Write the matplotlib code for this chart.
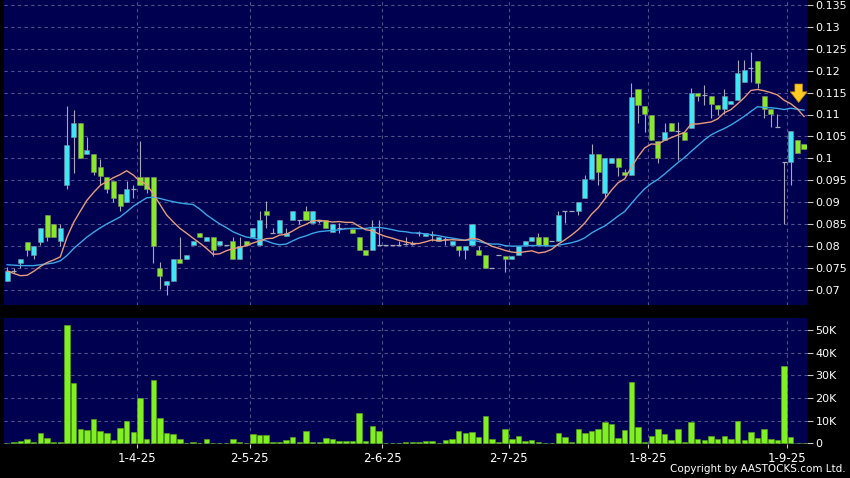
import numpy as np
import pandas as pd
import matplotlib
matplotlib.use("Agg")
import matplotlib.pyplot as plt
from matplotlib.ticker import FixedLocator, FuncFormatter

# daily candles (index 0 = first visible day)
opens = [0.0720, 0.0743, 0.0761, 0.0810, 0.0780, 0.0810, 0.0871, 0.0851, 0.0811, 0.0938,
         0.1049, 0.1080, 0.1010, 0.1009, 0.0979, 0.0958, 0.0949, 0.0919, 0.0900, 0.0930,
         0.0958, 0.0958, 0.0958, 0.0750, 0.0711, 0.0720, 0.0771, 0.0771, 0.0801, 0.0830,
         0.0812, 0.0820, 0.0801, 0.0801, 0.0812, 0.0770, 0.0812, 0.0820, 0.0801, 0.0880,
         0.0830, 0.0830, 0.0822, 0.0860, 0.0860, 0.0879, 0.0852, 0.0856, 0.0860, 0.0831,
         0.0841, 0.0841, 0.0839, 0.0820, 0.0790, 0.0790, 0.0801, 0.0801, 0.0801, 0.0801,
         0.0805, 0.0805, 0.0829, 0.0822, 0.0825, 0.0811, 0.0815, 0.0801, 0.0799, 0.0790,
         0.0801, 0.0790, 0.0780, 0.0750, 0.0780, 0.0778, 0.0770, 0.0780, 0.0801, 0.0811,
         0.0820, 0.0820, 0.0811, 0.0811, 0.0879, 0.0879, 0.0879, 0.0910, 0.0952, 0.1010,
         0.0921, 0.0990, 0.1001, 0.0969, 0.0961, 0.1159, 0.1120, 0.1099, 0.1039, 0.1042,
         0.1081, 0.1062, 0.1060, 0.1070, 0.1150, 0.1144, 0.1142, 0.1121, 0.1113, 0.1123,
         0.1133, 0.1175, 0.1207, 0.1223, 0.1142, 0.1113, 0.1071, 0.0991, 0.0991, 0.1041,
         0.1032]
highs = [0.0752, 0.0750, 0.0770, 0.0810, 0.0800, 0.0841, 0.0871, 0.0851, 0.0851, 0.1120,
         0.1110, 0.1080, 0.1049, 0.1009, 0.0999, 0.0958, 0.0949, 0.0919, 0.0949, 0.0940,
         0.1040, 0.0958, 0.0958, 0.0763, 0.0721, 0.0771, 0.0821, 0.0780, 0.0812, 0.0830,
         0.0820, 0.0820, 0.0812, 0.0801, 0.0820, 0.0820, 0.0812, 0.0841, 0.0879, 0.0902,
         0.0841, 0.0860, 0.0841, 0.0879, 0.0860, 0.0892, 0.0879, 0.0860, 0.0860, 0.0850,
         0.0852, 0.0841, 0.0839, 0.0820, 0.0790, 0.0860, 0.0860, 0.0801, 0.0801, 0.0812,
         0.0820, 0.0812, 0.0834, 0.0829, 0.0834, 0.0820, 0.0820, 0.0812, 0.0799, 0.0799,
         0.0850, 0.0799, 0.0780, 0.0750, 0.0780, 0.0778, 0.0778, 0.0799, 0.0811, 0.0820,
         0.0830, 0.0820, 0.0811, 0.0879, 0.0879, 0.0879, 0.0900, 0.0961, 0.1032, 0.1010,
         0.1001, 0.1001, 0.1001, 0.0975, 0.1171, 0.1159, 0.1120, 0.1099, 0.1039, 0.1081,
         0.1081, 0.1082, 0.1060, 0.1160, 0.1150, 0.1167, 0.1142, 0.1121, 0.1159, 0.1131,
         0.1225, 0.1225, 0.1242, 0.1223, 0.1142, 0.1113, 0.1102, 0.0991, 0.1062, 0.1041,
         0.1032]
lows = [0.0720, 0.0738, 0.0750, 0.0778, 0.0769, 0.0801, 0.0812, 0.0820, 0.0800, 0.0929,
        0.0966, 0.1001, 0.1010, 0.0962, 0.0940, 0.0920, 0.0900, 0.0879, 0.0900, 0.0909,
        0.0939, 0.0920, 0.0760, 0.0701, 0.0689, 0.0720, 0.0762, 0.0771, 0.0801, 0.0820,
        0.0812, 0.0778, 0.0801, 0.0801, 0.0770, 0.0770, 0.0801, 0.0820, 0.0801, 0.0841,
        0.0830, 0.0830, 0.0822, 0.0860, 0.0849, 0.0860, 0.0852, 0.0852, 0.0841, 0.0831,
        0.0830, 0.0841, 0.0830, 0.0790, 0.0780, 0.0790, 0.0801, 0.0801, 0.0801, 0.0801,
        0.0801, 0.0801, 0.0822, 0.0822, 0.0812, 0.0811, 0.0801, 0.0801, 0.0778, 0.0770,
        0.0801, 0.0780, 0.0750, 0.0750, 0.0780, 0.0740, 0.0770, 0.0780, 0.0801, 0.0811,
        0.0801, 0.0800, 0.0811, 0.0811, 0.0852, 0.0879, 0.0870, 0.0910, 0.0952, 0.0940,
        0.0909, 0.0990, 0.0959, 0.0961, 0.0961, 0.1081, 0.1060, 0.1042, 0.0990, 0.1042,
        0.1062, 0.0995, 0.1042, 0.1070, 0.1130, 0.1121, 0.1093, 0.1100, 0.1102, 0.1123,
        0.1133, 0.1175, 0.1175, 0.1160, 0.1093, 0.1071, 0.1071, 0.0851, 0.0940, 0.1012,
        0.1022]
closes = [0.0743, 0.0743, 0.0770, 0.0790, 0.0799, 0.0840, 0.0820, 0.0820, 0.0841, 0.1030,
          0.1080, 0.1001, 0.1018, 0.0969, 0.0960, 0.0930, 0.0909, 0.0890, 0.0929, 0.0930,
          0.0939, 0.0929, 0.0800, 0.0731, 0.0721, 0.0771, 0.0762, 0.0780, 0.0812, 0.0820,
          0.0820, 0.0790, 0.0812, 0.0801, 0.0770, 0.0799, 0.0801, 0.0841, 0.0860, 0.0871,
          0.0830, 0.0860, 0.0830, 0.0879, 0.0860, 0.0860, 0.0879, 0.0856, 0.0841, 0.0850,
          0.0841, 0.0841, 0.0830, 0.0790, 0.0780, 0.0841, 0.0801, 0.0801, 0.0801, 0.0801,
          0.0805, 0.0805, 0.0829, 0.0829, 0.0825, 0.0820, 0.0815, 0.0812, 0.0790, 0.0799,
          0.0850, 0.0780, 0.0750, 0.0750, 0.0780, 0.0770, 0.0778, 0.0799, 0.0811, 0.0820,
          0.0801, 0.0801, 0.0811, 0.0870, 0.0879, 0.0879, 0.0900, 0.0952, 0.1010, 0.0968,
          0.1001, 0.1001, 0.0981, 0.0961, 0.1141, 0.1121, 0.1101, 0.1042, 0.1001, 0.1060,
          0.1062, 0.1062, 0.1042, 0.1150, 0.1143, 0.1144, 0.1123, 0.1113, 0.1142, 0.1131,
          0.1194, 0.1202, 0.1207, 0.1173, 0.1113, 0.1102, 0.1071, 0.0991, 0.1062, 0.1012,
          0.1022]
# volume in thousands of shares
volumes = [0.3, 0.7, 0.9, 1.8, 0.7, 4.4, 2.4, 0.7, 0.6, 52.0,
           26.5, 6.3, 5.9, 10.6, 5.6, 4.6, 1.5, 6.6, 9.9, 4.9,
           20.0, 1.8, 28.0, 11.2, 4.6, 4.3, 1.9, 0.3, 0.4, 0.1,
           1.9, 0.1, 0.3, 0.1, 1.9, 0.6, 0.1, 4.1, 3.8, 3.8,
           0.6, 0.4, 1.5, 2.9, 0.4, 5.3, 0.4, 0.6, 2.5, 1.8,
           1.0, 1.0, 1.2, 13.2, 1.2, 7.6, 5.3, 0.1, 0.1, 0.1,
           0.7, 0.7, 0.4, 1.0, 1.0, 0.3, 1.3, 1.8, 5.6, 4.7,
           4.9, 2.6, 12.2, 1.8, 0.4, 6.2, 1.9, 3.1, 1.0, 1.3,
           0.4, 0.1, 0.1, 4.7, 2.6, 0.4, 6.5, 4.4, 5.6, 6.3,
           9.3, 8.4, 2.5, 5.7, 26.8, 7.1, 0.7, 3.2, 6.3, 4.3,
           1.6, 6.5, 0.4, 9.4, 2.1, 1.5, 3.1, 2.1, 3.2, 1.8,
           9.7, 1.6, 5.0, 2.2, 6.3, 1.8, 1.5, 34.0, 2.9, 0.3,
           0.1]
# moving averages before enough visible days exist
ma10_head = [0.0743, 0.0737, 0.0732, 0.0733, 0.0742, 0.0753, 0.0762, 0.0768, 0.0775]
ma20_head = [0.0757, 0.0756, 0.0755, 0.0755, 0.0755, 0.0757, 0.0759, 0.0761, 0.0766, 0.0778,
             0.0794, 0.0807, 0.0820, 0.0831, 0.0841, 0.0850, 0.0858, 0.0866, 0.0878]
# first trading day of each labelled month
month_start_idx = [20, 37, 57, 76, 97, 118]
month_labels = ["1-4-25", "2-5-25", "2-6-25", "2-7-25", "1-8-25", "1-9-25"]
price_ticks = [0.07, 0.075, 0.08, 0.085, 0.09, 0.095, 0.1, 0.105, 0.11, 0.115,
               0.12, 0.125, 0.13, 0.135]
vol_ticks = [0, 10, 20, 30, 40, 50]

o = np.array(opens)
h = np.array(highs)
l = np.array(lows)
c = np.array(closes)
v = np.array(volumes) * 1000
x = np.arange(len(c))

ma10 = pd.Series(c).rolling(10).mean().to_numpy()
ma10[:len(ma10_head)] = ma10_head
ma20 = pd.Series(c).rolling(20).mean().to_numpy()
ma20[:len(ma20_head)] = ma20_head

BG = "#000050"
GRID = "#50508a"
UP = "#3fe6f4"
DOWN = "#8ae82a"
VOL = "#80f020"
WICK = "#a8a8b8"

fig = plt.figure(figsize=(8.5, 4.78), dpi=100, facecolor="black")
ax = fig.add_axes([4 / 850, 173 / 478, 803 / 850, 305 / 478], facecolor=BG)
axv = fig.add_axes([4 / 850, 34 / 478, 803 / 850, 126 / 478], facecolor=BG)

xmin, xmax = -0.48, 120.45
grid_x = [i - 0.5 for i in month_start_idx]

# candles
ax.vlines(x, l, h, color=WICK, linewidth=0.8, zorder=2)
up = c > o
down = c < o
flat = c == o
body_w = 0.76
ax.bar(x[up], (c - o)[up], bottom=o[up], width=body_w, color=UP,
       edgecolor="#7a8a9a", linewidth=0.4, zorder=3)
ax.bar(x[down], (o - c)[down], bottom=c[down], width=body_w, color=DOWN,
       edgecolor="#7a8a6a", linewidth=0.4, zorder=3)
ax.hlines(c[flat], x[flat] - body_w / 2, x[flat] + body_w / 2, color=WICK,
          linewidth=0.9, zorder=3)

ax.plot(x, ma20, color="#3aa6e6", linewidth=1.0, zorder=4)
ax.plot(x, ma10, color="#e89c7a", linewidth=1.0, zorder=4)

# arrow at the latest bar
ax.annotate("", xy=(119.2, 0.1121), xytext=(119.2, 0.1176),
            arrowprops=dict(arrowstyle="simple,head_width=1.1,head_length=0.7,tail_width=0.5",
                            facecolor="#ffcc22", edgecolor="#c08000", linewidth=0.5,
                            mutation_scale=11), zorder=6)

ax.set_xlim(xmin, xmax)
ax.set_ylim(0.135 - 300 / 4380, 0.135 + 5 / 4380)
ax.yaxis.tick_right()
ax.yaxis.set_major_locator(FixedLocator(price_ticks))
ax.yaxis.set_major_formatter(FuncFormatter(lambda val, pos: f"{val:g}"))
ax.set_xticks(grid_x)
ax.tick_params(axis="x", length=0, labelbottom=False)

# volume
axv.bar(x, v, width=0.82, color=VOL, edgecolor="#5aa818", linewidth=0.4, zorder=3)
axv.set_xlim(xmin, xmax)
axv.set_ylim(-300, 55200)
axv.yaxis.tick_right()
axv.yaxis.set_major_locator(FixedLocator([t * 1000 for t in vol_ticks]))
axv.yaxis.set_major_formatter(FuncFormatter(lambda val, pos: "0" if val == 0 else f"{val / 1000:.0f}K"))
axv.set_xticks(grid_x)
axv.set_xticklabels(month_labels)

for a in (ax, axv):
    a.grid(True, color=GRID, linestyle=(0, (3, 3)), linewidth=0.8, zorder=0)
    a.set_axisbelow(True)
    for s in a.spines.values():
        s.set_visible(False)
    a.tick_params(axis="y", colors="#c8c8c8", labelcolor="white", length=4,
                  width=0.8, pad=2, labelsize=8)
axv.tick_params(axis="x", colors="#c8c8c8", labelcolor="white", length=3,
                width=0.8, pad=3, labelsize=8.5, direction="out")

fig.text(846 / 850, 4 / 478, "Copyright by AASTOCKS.com Ltd.", color="white",
         fontsize=7.5, ha="right", va="bottom")

fig.savefig("out.png", dpi=100, facecolor="black")
